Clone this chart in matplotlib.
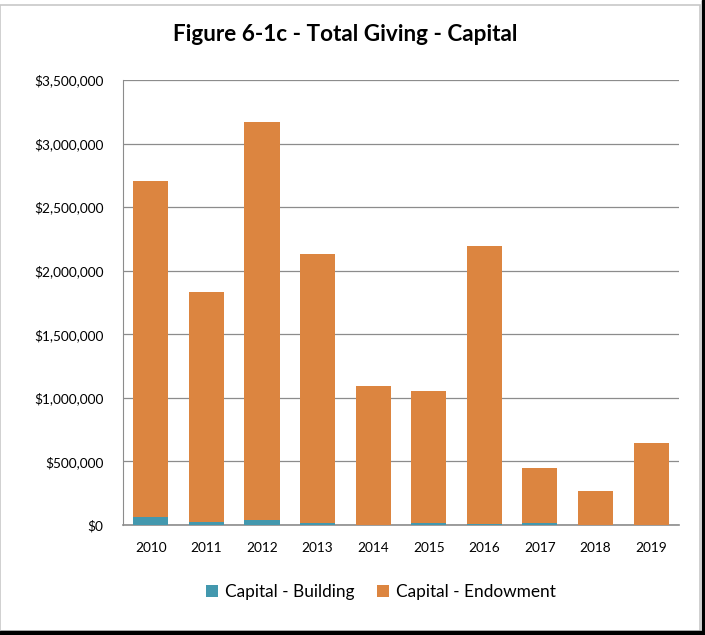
import numpy as np
import matplotlib.pyplot as plt
from matplotlib.patches import Rectangle
from matplotlib.ticker import FuncFormatter

years = ['2010', '2011', '2012', '2013', '2014', '2015', '2016', '2017', '2018', '2019']
totals = [2706000, 1833000, 3171000, 2134000, 1094000, 1054000, 2195000, 448000, 267000, 645000]
building = [65000, 21000, 37000, 13000, 3000, 14000, 10000, 14000, 0, 0]
endowment = [t - b for t, b in zip(totals, building)]

plt.rcParams['font.family'] = ['Lato', 'DejaVu Sans']

fig = plt.figure(figsize=(7.05, 6.35), dpi=100)
ax = fig.add_axes([0.1745, 0.1732, 0.7885, 0.7008])

x = np.arange(len(years))
ax.bar(x, building, width=0.63, color='#4398AE', label='Capital - Building', zorder=3)
ax.bar(x, endowment, width=0.63, bottom=building, color='#DC8540',
       label='Capital - Endowment', zorder=3)

ax.set_ylim(0, 3500000)
ax.set_yticks(np.arange(0, 3500001, 500000))
ax.yaxis.set_major_formatter(FuncFormatter(lambda v, p: '${:,.0f}'.format(v)))
ax.set_xlim(-0.5, len(years) - 0.5)
ax.set_xticks(x)
ax.set_xticklabels(years)
ax.tick_params(axis='both', length=0, labelsize=9.8, colors='black')
ax.tick_params(axis='x', pad=12)
ax.tick_params(axis='y', pad=14)
ax.grid(axis='y', color='#8c8c8c', linewidth=0.9, zorder=0)
for s in ['top', 'right']:
    ax.spines[s].set_visible(False)
ax.spines['left'].set_color('#8c8c8c')
ax.spines['bottom'].set_color('#8c8c8c')
ax.spines['bottom'].set_linewidth(1.2)

fig.text(0.489, 0.946, 'Figure 6-1c - Total Giving - Capital', ha='center', va='center',
         fontsize=16.2, fontweight='bold')

fig.legend(loc='center', bbox_to_anchor=(0.54, 0.067), ncol=2, frameon=False,
           fontsize=12.4, handlelength=0.7, handleheight=0.7, columnspacing=1.3,
           handletextpad=0.4)

# chart frame
fig.patches.append(Rectangle((0.0, 0.006), 0.993, 0.986, transform=fig.transFigure,
                             fill=False, edgecolor='#c8c8c8', linewidth=1.2))
fig.patches.append(Rectangle((0.0, 0.0), 1.0, 0.006, transform=fig.transFigure,
                             color='black'))
fig.patches.append(Rectangle((0.996, 0.0), 0.004, 1.0, transform=fig.transFigure,
                             color='black'))

fig.savefig('out.png', dpi=100)
